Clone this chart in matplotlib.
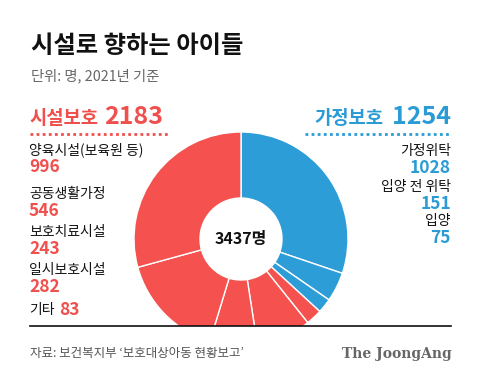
import matplotlib.pyplot as plt
from matplotlib.lines import Line2D

plt.rcParams['font.family'] = ['Noto Sans CJK KR', 'DejaVu Sans']

# data (2021, persons)
home_labels = ['가정위탁', '입양 전 위탁', '입양']
home_values = [1028, 151, 75]
facility_labels = ['양육시설(보육원 등)', '공동생활가정', '보호치료시설', '일시보호시설', '기타']
facility_values = [996, 546, 243, 282, 83]
home_total = 1254
facility_total = 2183
grand_total = 3437

RED = '#f4514f'
BLUE = '#2d9dd8'
RED_TXT = '#f0504d'
BLUE_TXT = '#2b9bd6'

W, H = 480, 382
fig = plt.figure(figsize=(4.8, 3.82), dpi=100)


def px(x, y):
    return x / W, 1 - y / H


def txt(x, y, s, **kw):
    fig.text(*px(x, y), s, **kw)


# donut, clipped at the baseline
cx, cy = 241, 239
top, bottom = 120, 326
ax = fig.add_axes([0, (H - bottom) / H, 1, (bottom - top) / H])
# clockwise from 12 o'clock: home care first, then facilities in reverse order
vals = home_values + facility_values[::-1]
cols = [BLUE] * len(home_values) + [RED] * len(facility_values)
wedges, _ = ax.pie(vals, colors=cols, startangle=90, counterclock=False, radius=107,
                   wedgeprops=dict(width=66, edgecolor='white', linewidth=1))
for w in wedges:
    w.set_clip_on(True)
ax.set_aspect('auto')
ax.set_xlim(-cx, W - cx)
ax.set_ylim(cy - bottom, cy - top)
ax.axis('off')
ax.text(0, 0, f'{grand_total}명', ha='center', va='center',
        fontsize=11.5, fontweight='bold', color='#111111')

# title
txt(31, 46, '시설로 향하는 아이들', fontsize=17.5, fontweight='black', va='center', color='#111111')
txt(31, 76, '단위: 명, 2021년 기준', fontsize=10.3, va='center', color='#666666')

# left block
txt(29, 118, '시설보호', fontsize=13.5, fontweight='bold', va='center', color=RED_TXT)
txt(104, 117, f'{facility_total}', fontsize=18, fontweight='bold', va='center', color=RED_TXT)
fig.add_artist(Line2D([30 / W, 170 / W], [1 - 134 / H] * 2, color=RED_TXT,
                      lw=2, linestyle=(0, (1, 1.2))))
left_y = [150, 194, 232, 270]
for lab, v, y in zip(facility_labels[:4], facility_values[:4], left_y):
    txt(29, y, lab, fontsize=10, va='center', color='#111111')
    txt(29, y + 17, f'{v}', fontsize=12.5, fontweight='bold', va='center', color=RED_TXT)
txt(29, 310, facility_labels[4], fontsize=10, va='center', color='#111111')
txt(59, 310, f'{facility_values[4]}', fontsize=12.5, fontweight='bold', va='center', color=RED_TXT)

# right block
txt(451, 117, f'{home_total}', fontsize=18, fontweight='bold', va='center', ha='right', color=BLUE_TXT)
txt(383, 118, '가정보호', fontsize=13.5, fontweight='bold', va='center', ha='right', color=BLUE_TXT)
fig.add_artist(Line2D([305 / W, 451 / W], [1 - 134 / H] * 2, color=BLUE_TXT,
                      lw=2, linestyle=(0, (1, 1.2))))
right_y = [151, 187, 221]
for lab, v, y in zip(home_labels, home_values, right_y):
    txt(451, y, lab, fontsize=10, va='center', ha='right', color='#111111')
    txt(451, y + 17, f'{v}', fontsize=12.5, fontweight='bold', va='center', ha='right', color=BLUE_TXT)

# baseline and footer
fig.add_artist(Line2D([30 / W, 451 / W], [1 - 326 / H] * 2, color='#111111', lw=1.2))
txt(30, 354, '자료: 보건복지부 ‘보호대상아동 현황보고’', fontsize=9, va='center', color='#555555')
txt(452, 354, 'The JoongAng', fontsize=10, fontweight='bold', va='center', ha='right',
    color='#666666', family='DejaVu Serif')

fig.savefig('out.png', dpi=100, facecolor='white')
